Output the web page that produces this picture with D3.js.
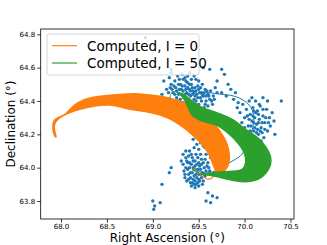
<!DOCTYPE html>
<html>
<head>
<meta charset="utf-8">
<script src="https://cdn.jsdelivr.net/npm/d3@7"></script>
<style>
  body { margin: 0; background: #fff; }
  text { font-family: "DejaVu Sans", sans-serif; }
</style>
</head>
<body>
<svg id="chart" width="327" height="245"></svg>
<script>
// observed positions (RA, Dec)
const observed = [
  // north-west clump
  [69.12,64.52],[69.15,64.47],[69.18,64.54],[69.2,64.5],[69.22,64.45],[69.24,64.52],[69.25,64.48],[69.27,64.55],
  [69.28,64.44],[69.3,64.5],[69.31,64.47],[69.33,64.53],[69.34,64.42],[69.35,64.49],[69.37,64.45],[69.38,64.51],
  [69.4,64.47],[69.41,64.43],[69.42,64.5],[69.44,64.46],[69.45,64.41],[69.46,64.48],[69.48,64.44],[69.5,64.47],
  [69.52,64.42],[69.53,64.45],[69.55,64.43],[69.57,64.47],[69.58,64.4],[69.6,64.44],[69.62,64.41],[69.63,64.46],
  [69.36,64.39],[69.3,64.41],[69.26,64.42],[69.22,64.4],[69.43,64.38],[69.5,64.38],[69.56,64.36],[69.6,64.37],
  [69.65,64.38],[69.32,64.56],[69.38,64.55],[69.2,64.57],[69.1,64.44],[69.14,64.41],[69.47,64.53],[69.54,64.5],
  [69.66,64.43],[69.7,64.45],[69.55,64.6],[69.62,64.59],[69.75,64.59],[69.78,64.56],[69.7,64.52],[69.82,64.5],
  [69.85,64.47],[69.9,64.45],[69.2,64.59],[68.92,64.78],[69.68,64.48],[69.45,64.55],[69.4,64.57],
  [69.21,64.47],[69.23,64.49],[69.26,64.46],[69.28,64.5],[69.29,64.47],[69.31,64.44],[69.32,64.49],[69.33,64.46],
  [69.35,64.44],[69.36,64.47],[69.36,64.52],[69.38,64.48],[69.39,64.44],[69.4,64.5],[69.41,64.46],[69.43,64.48],
  [69.43,64.44],[69.45,64.45],[69.46,64.43],[69.47,64.46],[69.49,64.42],[69.49,64.49],[69.51,64.45],[69.52,64.48],
  [69.54,64.44],[69.56,64.45],[69.58,64.43],[69.59,64.46],[69.61,64.43],[69.27,64.4],[69.33,64.39],[69.39,64.41],
  [69.47,64.4],[69.53,64.4],[69.24,64.44],[69.19,64.48],[69.17,64.45],[69.29,64.53],[69.35,64.54],[69.42,64.53],
  [69.5,64.52],[69.64,64.4],[69.67,64.41],[69.57,64.38],
  [69.8,64.43],[69.88,64.41],[69.93,64.39],[69.75,64.45],
  // eastern clump
  [69.95,64.33],[69.98,64.38],[70.0,64.3],[70.02,64.35],[70.04,64.25],[70.05,64.4],[70.06,64.32],[70.08,64.28],
  [70.09,64.36],[70.1,64.22],[70.11,64.3],[70.12,64.4],[70.13,64.26],[70.14,64.34],[70.15,64.2],[70.16,64.29],
  [70.17,64.37],[70.18,64.24],[70.2,64.31],[70.21,64.18],[70.22,64.27],[70.24,64.35],[70.25,64.22],[70.27,64.3],
  [70.28,64.25],[70.3,64.33],[70.32,64.28],[70.07,64.19],[70.03,64.2],[70.0,64.24],[69.97,64.27],[70.12,64.15],
  [70.18,64.16],[70.25,64.4],[70.2,64.42],[70.08,64.42],[70.14,64.23],[70.1,64.27],[70.06,64.22],[70.19,64.21],
  [69.92,64.36],[70.4,64.4],[70.33,64.2],
  [70.05,64.29],[70.07,64.25],[70.09,64.31],[70.11,64.24],[70.12,64.33],[70.13,64.21],[70.15,64.27],[70.15,64.32],
  [70.17,64.22],[70.19,64.27],[70.2,64.35],[70.22,64.23],[70.23,64.3],[70.26,64.27],[70.03,64.31],[70.1,64.34],
  [70.16,64.38],
  // southern clump
  [69.33,64.02],[69.35,63.96],[69.36,64.06],[69.38,63.99],[69.39,63.93],[69.4,64.03],[69.41,63.97],[69.42,64.08],
  [69.43,63.91],[69.44,64.0],[69.45,63.95],[69.46,64.04],[69.47,63.9],[69.48,63.98],[69.49,64.06],[69.5,63.93],
  [69.51,64.01],[69.52,63.96],[69.53,64.05],[69.55,63.92],[69.56,64.0],[69.57,63.95],[69.58,64.08],[69.6,64.03],
  [69.62,63.98],[69.63,64.06],[69.37,63.92],[69.34,63.98],[69.31,64.04],[69.42,63.89],[69.46,63.88],[69.5,63.89],
  [69.54,63.9],[69.4,64.1],[69.45,64.12],[69.48,64.14],[69.44,64.17],[69.5,64.11],[69.57,64.12],[69.36,64.1],
  [69.33,64.08],[69.0,63.8],[69.02,63.77],[69.01,63.75],[69.08,63.79],[69.1,63.9],[69.18,63.97],[69.2,64.0],
  [69.6,63.85],[69.65,63.83],[69.7,63.82],[69.63,63.79],[69.58,63.8],[69.55,64.13],[69.52,64.15],
  [69.7,64.05],[69.75,64.08],[69.68,64.1],
  [69.36,64.0],[69.38,64.03],[69.39,63.96],[69.4,64.0],[69.41,63.94],[69.42,64.02],[69.43,63.97],[69.44,64.04],
  [69.44,63.93],[69.45,63.99],[69.46,63.92],[69.46,64.01],[69.47,63.96],[69.48,64.02],[69.48,63.94],[69.49,63.99],
  [69.5,64.03],[69.5,63.96],[69.51,63.92],[69.52,63.99],[69.53,64.02],[69.53,63.94],[69.54,63.97],[69.55,64.03],
  [69.56,63.96],[69.58,63.98],[69.59,64.01],[69.37,64.04],[69.35,63.94],[69.41,63.91],[69.45,63.9],[69.49,63.91],
  [69.43,64.06],[69.47,64.08],[69.52,64.08],[69.39,64.07],[69.57,64.05],[69.61,64.0]
];

// thin observed orbit track
const orbitLine = [
  [69.45,64.0],[69.55,63.97],[69.68,63.98],[69.8,64.02],[69.9,64.05],[69.97,64.08],[70.03,64.14],[70.08,64.22],
  [70.1,64.3],[70.07,64.36],[70.0,64.4],[69.88,64.43],[69.75,64.44],[69.6,64.45],[69.5,64.45]
];

// Computed, I = 0 : outline of the band
const orangeBand = [
  [67.937,64.181],[67.907,64.220],[67.905,64.256],[67.918,64.283],[67.946,64.298],[67.989,64.310],[68.044,64.325],
  [68.080,64.346],[68.131,64.373],[68.188,64.396],[68.297,64.420],[68.479,64.436],[68.643,64.443],[68.806,64.448],
  [68.969,64.440],[69.151,64.426],[69.332,64.396],[69.492,64.352],[69.623,64.298],[69.732,64.226],[69.808,64.154],
  [69.841,64.076],[69.830,64.016],[69.776,63.974],[69.699,63.947],[69.656,63.950],
  [69.678,63.966],[69.642,64.026],[69.587,64.096],[69.478,64.166],[69.332,64.236],[69.151,64.296],[68.969,64.326],
  [68.751,64.346],[68.552,64.370],[68.370,64.366],[68.207,64.346],[68.117,64.330],[68.044,64.313],[67.989,64.295],
  [67.951,64.274],[67.935,64.250],[67.940,64.220],[67.953,64.182]
];
const orangeTail = [[69.441,63.996],[69.514,63.962],[69.590,63.932],[69.645,63.938],[69.678,63.962]];

// Computed, I = 50 : outline of the band
const greenBand = [
  [69.264,64.457],[69.351,64.439],[69.427,64.406],[69.547,64.364],[69.699,64.334],[69.874,64.292],[70.004,64.238],
  [70.146,64.184],[70.233,64.130],[70.288,64.070],[70.288,64.016],[70.233,63.962],[70.146,63.926],[70.004,63.911],
  [69.841,63.923],[69.678,63.944],[69.569,63.953],[69.514,63.956],
  [69.569,63.965],[69.696,63.977],[69.874,63.983],[69.972,63.995],[70.004,64.034],[69.983,64.094],[69.906,64.154],
  [69.819,64.202],[69.696,64.250],[69.536,64.276],[69.438,64.304],[69.394,64.340],[69.351,64.394],[69.296,64.436],
  [69.264,64.451]
];
const greenHook = [[69.187,64.415],[69.193,64.439],[69.220,64.454],[69.253,64.457]];
const greenTail = [[69.427,63.989],[69.492,63.971],[69.569,63.959]];

const xTicks = [68.0, 68.5, 69.0, 69.5, 70.0, 70.5];
const yTicks = [63.8, 64.0, 64.2, 64.4, 64.6, 64.8];
const seriesNames = ["Computed, I = 0", "Computed, I = 50"];
const seriesColors = ["#ff7f0e", "#2ca02c"];

const svg = d3.select("#chart");
const plot = { left: 40.7, right: 294, top: 29, bottom: 219 };

const xScale = d3.scaleLinear().domain([67.779, 70.538]).range([plot.left, plot.right]);
const yScale = d3.scaleLinear().domain([63.692, 64.832]).range([plot.bottom, plot.top]);

const line = d3.line().x(d => xScale(d[0])).y(d => yScale(d[1])).curve(d3.curveCatmullRom);
const area = d3.line().x(d => xScale(d[0])).y(d => yScale(d[1])).curve(d3.curveCatmullRomClosed);

const g = svg.append("g");

// scatter
g.selectAll(".obs").data(observed)
  .join("circle")
  .attr("class", "obs")
  .attr("cx", d => xScale(d[0]))
  .attr("cy", d => yScale(d[1]))
  .attr("r", 1.7)
  .attr("fill", "#1f77b4");

g.append("path").attr("d", line(orbitLine))
  .attr("fill", "none").attr("stroke", "#1f77b4").attr("stroke-width", 1);

// orange band
g.append("path").attr("d", area(orangeBand)).attr("fill", seriesColors[0]);
g.append("path").attr("d", line(orangeTail))
  .attr("fill", "none").attr("stroke", seriesColors[0]).attr("stroke-width", 1.2);

// green band
g.append("path").attr("d", area(greenBand)).attr("fill", seriesColors[1]);
g.append("path").attr("d", line(greenHook))
  .attr("fill", "none").attr("stroke", seriesColors[1]).attr("stroke-width", 1);
g.append("path").attr("d", line(greenTail))
  .attr("fill", "none").attr("stroke", seriesColors[1]).attr("stroke-width", 1.2);

// axes
const xAxis = svg.append("g")
  .attr("transform", "translate(0," + plot.bottom + ")")
  .call(d3.axisBottom(xScale).tickValues(xTicks).tickFormat(d3.format(".1f")).tickSize(3.5).tickPadding(2));
const yAxis = svg.append("g")
  .attr("transform", "translate(" + plot.left + ",0)")
  .call(d3.axisLeft(yScale).tickValues(yTicks).tickFormat(d3.format(".1f")).tickSize(3.5).tickPadding(2));
[xAxis, yAxis].forEach(a => {
  a.select(".domain").remove();
  a.selectAll("line").attr("stroke", "#000").attr("stroke-width", 0.8);
  a.selectAll("text").attr("font-size", 7).attr("fill", "#000").style("font-family", "DejaVu Sans");
});

svg.append("rect")
  .attr("x", plot.left).attr("y", plot.top)
  .attr("width", plot.right - plot.left).attr("height", plot.bottom - plot.top)
  .attr("fill", "none").attr("stroke", "#000").attr("stroke-width", 0.8);

// axis labels
svg.append("text")
  .attr("x", (plot.left + plot.right) / 2).attr("y", 242)
  .attr("text-anchor", "middle").attr("font-size", 12)
  .text("Right Ascension (°)");
svg.append("text")
  .attr("transform", "translate(15," + (plot.top + plot.bottom) / 2 + ") rotate(-90)")
  .attr("text-anchor", "middle").attr("font-size", 12)
  .text("Declination (°)");

// legend
const legend = svg.append("g");
legend.append("rect")
  .attr("x", 47).attr("y", 34).attr("width", 152).attr("height", 41).attr("rx", 2)
  .attr("fill", "#fff").attr("fill-opacity", 0.8)
  .attr("stroke", "#cccccc").attr("stroke-width", 0.8);
seriesNames.forEach((name, i) => {
  const y = 45.7 + i * 17.3;
  legend.append("line")
    .attr("x1", 52).attr("x2", 77).attr("y1", y).attr("y2", y)
    .attr("stroke", seriesColors[i]).attr("stroke-width", 1.2);
  legend.append("text")
    .attr("x", 87).attr("y", y + 4.8)
    .attr("font-size", 13.5)
    .text(name);
});
</script>
</body>
</html>
